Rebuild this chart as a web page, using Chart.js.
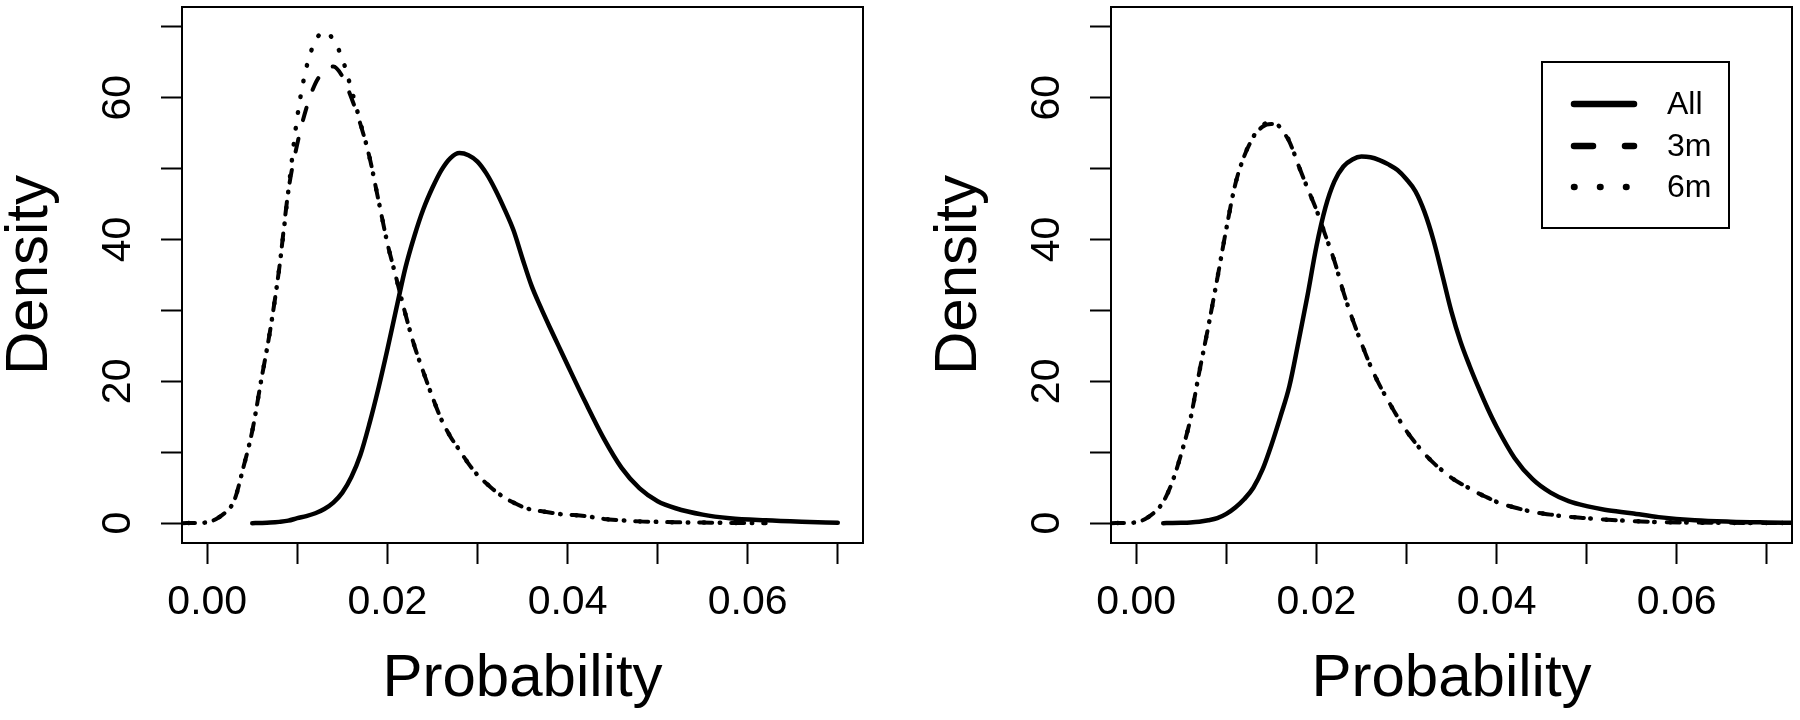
<!DOCTYPE html>
<html>
<head>
<meta charset="utf-8">
<script src="https://cdn.jsdelivr.net/npm/chart.js@4.4.1/dist/chart.umd.min.js"></script>
<style>
  html, body { margin: 0; padding: 0; background: #fff; }
  .row { display: flex; width: 1800px; height: 720px; }
  canvas { display: block; }
</style>
</head>
<body>
<div class="row">
  <canvas id="leftChart" width="900" height="720"></canvas>
  <canvas id="rightChart" width="900" height="720"></canvas>
</div>
<script>
// x grid (probability) shared by every curve
const probGrid = [
  -0.0028, 0, 0.001, 0.002, 0.003, 0.004,
  0.005, 0.006, 0.007, 0.008, 0.009, 0.010, 0.011, 0.012, 0.013, 0.014,
  0.015, 0.016, 0.017, 0.018, 0.019, 0.020, 0.021, 0.022, 0.023, 0.024,
  0.025, 0.026, 0.027, 0.028, 0.029, 0.030, 0.031, 0.032, 0.033, 0.034,
  0.035, 0.036, 0.037, 0.038, 0.039, 0.040, 0.042, 0.044, 0.046, 0.048,
  0.050, 0.052, 0.055, 0.058, 0.062, 0.066, 0.070, 0.0728
];

// left panel densities
const leftAll = [
  null, null, null, null, null, null,
  0, 0.03, 0.08, 0.18, 0.35, 0.7, 1.0, 1.4, 2.0, 2.9,
  4.3, 6.5, 9.6, 14, 19, 24.5, 30.3, 36, 40.5, 44.3,
  47.3, 49.8, 51.5, 52.2, 51.9, 51, 49.3, 47, 44.3, 41.3,
  37.3, 33.5, 30.5, 27.7, 25, 22.3, 17, 12, 7.8, 4.9,
  3.1, 2.1, 1.2, 0.7, 0.4, 0.2, 0.05, null
];
const left3m = [
  0, 0.1, 0.6, 1.5, 3.2, 7.8,
  13, 20.2, 27.3, 36, 46.8, 53.5, 58.5, 62, 63.8, 64.4,
  63, 60, 56.3, 51.7, 45.6, 39.5, 34.5, 29.5, 25, 21.3,
  17.8, 14.6, 12.2, 10.3, 8.4, 6.8, 5.6, 4.5, 3.6, 2.9,
  2.3, 1.9, 1.7, 1.5, 1.3, 1.2, 1.0, 0.6, 0.4, 0.25,
  0.18, 0.12, 0.08, 0.04, 0, null, null, null
];
const left6m = [
  0, 0.1, 0.6, 1.5, 3.2, 7.8,
  13, 20.2, 27.3, 36, 46.8, 57.3, 64.2, 68, 69.3, 68.2,
  65.5, 61.2, 56.5, 51.7, 45.6, 39.5, 34.5, 29.5, 25, 21.3,
  17.8, 14.6, 12.2, 10.3, 8.4, 6.8, 5.6, 4.5, 3.6, 2.9,
  2.3, 1.9, 1.7, 1.5, 1.3, 1.2, 1.0, 0.6, 0.4, 0.25,
  0.18, 0.12, 0.08, 0.04, 0, null, null, null
];

// right panel densities
const rightAll = [
  null, null, null, null, 0, 0.02,
  0.05, 0.1, 0.2, 0.4, 0.7, 1.3, 2.2, 3.4, 5.0, 7.5,
  11, 15, 19.3, 25.5, 32, 39, 44.5, 48.2, 50.3, 51.3,
  51.7, 51.6, 51.2, 50.6, 49.8, 48.5, 46.8, 43.9, 39.9, 34.9,
  29.8, 25.6, 22.2, 19.1, 16.2, 13.6, 9.2, 6.2, 4.3, 3.1,
  2.4, 1.9, 1.4, 0.85, 0.4, 0.2, 0.1, 0.05
];
const right3m = [
  0, 0.1, 0.6, 1.5, 3.0, 5.8,
  9.8, 14.6, 21.3, 27.7, 34.5, 41.5, 47.8, 51.8, 54.4, 55.9,
  56.3, 55.6, 53.8, 50.5, 47.3, 44.2, 40.6, 37, 32.6, 28.8,
  25.4, 22.2, 19.5, 17.2, 15, 13, 11.3, 9.8, 8.5, 7.4,
  6.4, 5.6, 4.9, 4.2, 3.6, 3.0, 2.2, 1.6, 1.2, 0.9,
  0.7, 0.5, 0.3, 0.15, 0.08, 0.04, 0.02, 0
];
const right6m = [
  0, 0.1, 0.6, 1.5, 3.0, 5.8,
  9.8, 14.6, 21.3, 27.7, 34.5, 41.5, 47.8, 51.8, 54.5, 56.1,
  56.6, 55.8, 53.9, 50.5, 47.3, 44.2, 40.6, 37, 32.6, 28.8,
  25.4, 22.2, 19.5, 17.2, 15, 13, 11.3, 9.8, 8.5, 7.4,
  6.4, 5.6, 4.9, 4.2, 3.6, 3.0, 2.2, 1.6, 1.2, 0.9,
  0.7, 0.5, 0.3, 0.15, 0.08, 0.04, 0.02, 0
];

const seriesNames = ['All', '3m', '6m'];
const densityTicks = [0, 10, 20, 30, 40, 50, 60, 70];
const densityLabels = ['0', '', '20', '', '40', '', '60', ''];
const probTicks = [0, 0.01, 0.02, 0.03, 0.04, 0.05, 0.06, 0.07];
const probLabels = ['0.00', '', '0.02', '', '0.04', '', '0.06', ''];

const FONT = "'Liberation Sans', Arial, Helvetica, sans-serif";

function points(values) {
  return probGrid.map((x, i) => ({x: x, y: values[i]}));
}

function lineSet(label, values, kind) {
  const ds = {
    label: label,
    data: points(values),
    borderColor: '#000',
    borderWidth: 4.5,
    pointRadius: 0,
    cubicInterpolationMode: 'monotone',
    borderJoinStyle: 'round',
    borderCapStyle: 'round',
    fill: false
  };
  if (kind === 'dashed') { ds.borderDash = [13, 19]; ds.borderWidth = 4; }
  // dots fall into the gaps of the dashes where both curves coincide
  if (kind === 'dotted') { ds.borderDash = [0.5, 15.5]; ds.borderDashOffset = 9.5; }
  return ds;
}

// frame around the plot region (R style box)
const framePlugin = {
  id: 'frame',
  afterDraw(chart) {
    const {ctx, chartArea} = chart;
    ctx.save();
    ctx.strokeStyle = '#000';
    ctx.lineWidth = 2;
    ctx.strokeRect(chartArea.left, chartArea.top, chartArea.right - chartArea.left, chartArea.bottom - chartArea.top);
    ctx.restore();
  }
};

// legend box in the top right corner of the plot
const boxLegend = {
  id: 'boxLegend',
  afterDraw(chart, args, opts) {
    if (!opts.show) return;
    const {ctx, chartArea} = chart;
    const r = chartArea.right, t = chartArea.top;
    ctx.save();
    ctx.strokeStyle = '#000';
    ctx.lineWidth = 2;
    ctx.strokeRect(r - 250, t + 55, 187, 166);
    const dashes = [[], [19, 32], [0.5, 25.5]];
    const rows = [97, 139, 180];
    ctx.lineCap = 'round';
    ctx.lineWidth = 6.5;
    ctx.fillStyle = '#000';
    ctx.font = '32px ' + FONT;
    ctx.textBaseline = 'middle';
    ctx.textAlign = 'left';
    seriesNames.forEach((name, i) => {
      const y = t + rows[i];
      ctx.setLineDash(dashes[i]);
      ctx.beginPath();
      ctx.moveTo(r - 218, y);
      ctx.lineTo(r - 158, y);
      ctx.stroke();
      ctx.fillText(name, r - 125, y + 1);
    });
    ctx.restore();
  }
};

function makeOptions(padLeft, padRight, showLegend) {
  return {
    responsive: false,
    animation: false,
    layout: { padding: { left: padLeft, right: padRight, top: 7, bottom: 0 } },
    plugins: {
      legend: { display: false },
      tooltip: { enabled: false },
      boxLegend: { show: showLegend }
    },
    scales: {
      x: {
        type: 'linear',
        min: -0.0028,
        max: 0.0728,
        afterBuildTicks: s => { s.ticks = probTicks.map(v => ({value: v})); },
        afterFit: s => { s.height = 177; s.paddingLeft = 0; s.paddingRight = 0; },
        ticks: {
          autoSkip: false,
          maxRotation: 0,
          padding: 14,
          color: '#000',
          font: { family: FONT, size: 41 },
          callback: (v, i) => probLabels[i]
        },
        grid: { drawOnChartArea: false, drawTicks: true, tickLength: 21, tickWidth: 2, tickColor: '#000' },
        border: { display: true, color: '#000', width: 2 },
        title: {
          display: true,
          text: 'Probability',
          color: '#000',
          font: { family: FONT, size: 60, lineHeight: 1 },
          padding: { top: 0, bottom: 11 }
        }
      },
      y: {
        type: 'linear',
        min: -2.8,
        max: 72.8,
        afterBuildTicks: s => { s.ticks = densityTicks.map(v => ({value: v})); },
        afterFit: s => { s.width = 182; s.paddingTop = 0; s.paddingBottom = 0; },
        ticks: {
          autoSkip: false,
          minRotation: 90,
          maxRotation: 90,
          crossAlign: 'center',
          padding: 20,
          color: '#000',
          font: { family: FONT, size: 41 },
          callback: (v, i) => densityLabels[i]
        },
        grid: { drawOnChartArea: false, drawTicks: true, tickLength: 21, tickWidth: 2, tickColor: '#000' },
        border: { display: true, color: '#000', width: 2 },
        title: {
          display: true,
          text: 'Density',
          color: '#000',
          font: { family: FONT, size: 60, lineHeight: 1 },
          padding: { top: 0, bottom: 0 }
        }
      }
    }
  };
}

const ctx1 = document.getElementById('leftChart').getContext('2d');
const ctx2 = document.getElementById('rightChart').getContext('2d');

// left panel
new Chart(ctx1, {
  type: 'line',
  data: {
    datasets: [
      lineSet(seriesNames[0], leftAll, 'solid'),
      lineSet(seriesNames[1], left3m, 'dashed'),
      lineSet(seriesNames[2], left6m, 'dotted')
    ]
  },
  options: makeOptions(0, 37, false),
  plugins: [framePlugin, boxLegend]
});

// right panel
new Chart(ctx2, {
  type: 'line',
  data: {
    datasets: [
      lineSet(seriesNames[0], rightAll, 'solid'),
      lineSet(seriesNames[1], right3m, 'dashed'),
      lineSet(seriesNames[2], right6m, 'dotted')
    ]
  },
  options: makeOptions(29, 8, true),
  plugins: [framePlugin, boxLegend]
});
</script>
</body>
</html>
